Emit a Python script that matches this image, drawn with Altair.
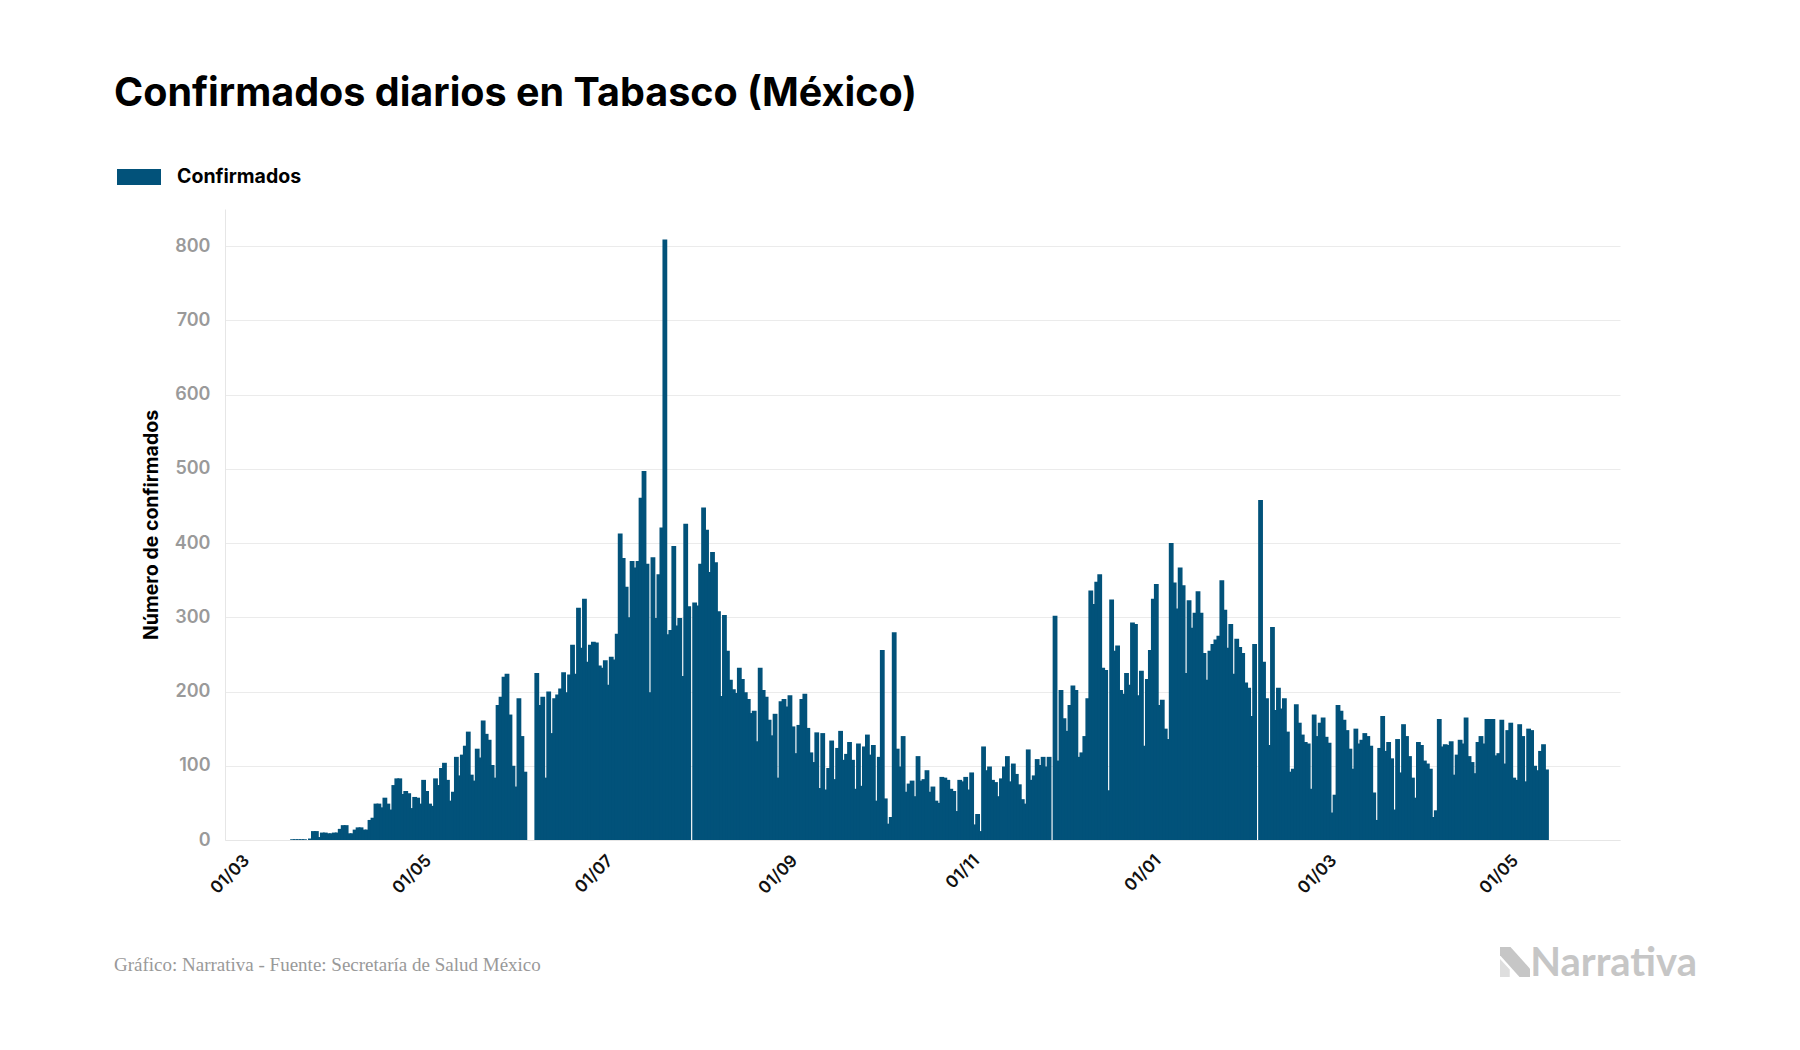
import altair as alt
import pandas as pd

# ---- data (daily confirmed cases) ----
START_DATE = "2020-03-13"
marzo_abril = [1, 1, 1, 1, 1, 0, 2, 12, 12, 4, 10, 10, 9, 9, 10, 10, 15, 20, 20, 9, 9, 14, 17, 17, 14, 14,
               27, 30, 49, 49, 44, 57, 49, 41, 74, 83, 83, 62, 66, 63, 43, 58, 57, 49, 81, 66, 49, 46, 83, 74, 97]
mayo_junio = [104, 81, 53, 65, 112, 87, 115, 127, 146, 88, 80, 123, 111, 161, 143, 135, 101, 84, 182, 193,
              220, 224, 169, 100, 72, 191, 140, 92, 0, 0, 0, 225, 182, 193, 84, 200, 144, 191, 196, 204]
junio_julio = [226, 199, 223, 263, 224, 313, 259, 325, 240, 263, 267, 266, 235, 232, 242, 209, 247, 243, 278,
               413, 380, 341, 300, 376, 367, 376, 461, 497, 372, 199]
julio_agosto = [381, 299, 358, 421, 809, 277, 283, 396, 289, 299, 221, 426, 315, 0, 320, 316, 372, 448, 418,
                361, 388, 374, 308, 194, 303, 255, 216, 203, 198, 232]
agosto_sept = [217, 199, 190, 171, 174, 133, 232, 202, 193, 162, 141, 170, 84, 187, 190, 180, 195, 153, 117,
               155, 190, 197, 151, 118, 105, 145, 70, 144, 68, 97, 134, 82, 124, 147, 108, 116, 132]
sept_oct = [108, 69, 130, 73, 126, 142, 115, 128, 53, 112, 256, 56, 22, 31, 280, 123, 99, 140, 65, 76, 80, 59,
            113, 80, 82, 94, 65, 72, 53, 50, 85, 84, 81, 69, 66, 39, 81]
oct_nov = [79, 85, 68, 91, 21, 35, 12, 126, 94, 99, 81, 78, 59, 83, 99, 113, 79, 103, 89, 75, 55, 49, 122, 81,
           87, 109, 101, 112, 99, 112, 0, 302, 107, 202, 164, 147, 182]
dic = [208, 202, 112, 118, 140, 191, 336, 318, 348, 358, 232, 229, 67, 324, 255, 262, 202, 197, 225, 209, 293,
       291, 195, 228, 127, 217, 256, 325, 345, 182, 189, 150, 136]
enero = [400, 347, 312, 367, 343, 225, 323, 286, 306, 335, 306, 252, 216, 255, 264, 270, 275, 350, 310, 259,
         291, 224, 271, 260, 252, 212, 205, 167, 264, 0, 458, 240, 191]
febrero_marzo = [128, 287, 175, 205, 177, 191, 146, 92, 96, 183, 158, 142, 132, 130, 69, 169, 140, 158, 165,
                 139, 131, 37, 61, 182, 174, 162, 148, 123, 96, 150, 130, 135, 144, 140, 127, 64, 27]
marzo_mayo = [124, 167, 120, 132, 110, 41, 136, 91, 156, 140, 113, 84, 57, 132, 128, 107, 103, 96, 31, 40, 163,
              126, 129, 128, 133, 88, 115, 135, 130, 165, 113, 105, 90, 132, 140, 130, 163, 163, 163, 114, 117,
              162, 103, 148, 158, 84, 81, 156, 140, 79, 150, 148, 100, 94, 120, 129, 95]

confirmados = (marzo_abril + mayo_junio + junio_julio + julio_agosto + agosto_sept + sept_oct + oct_nov
               + dic + enero + febrero_marzo + marzo_mayo)
fechas = pd.date_range(START_DATE, periods=len(confirmados), freq="D").strftime("%Y-%m-%d")

y_ticks = [0, 100, 200, 300, 400, 500, 600, 700, 800]
x_ticks = [(2020, 3), (2020, 5), (2020, 7), (2020, 9), (2020, 11), (2021, 1), (2021, 3), (2021, 5)]

df = pd.DataFrame({"fecha": list(fechas), "confirmados": confirmados, "serie": "Confirmados"})

BLUE = "#02527a"
FONT = "Inter"
W, H = 1395, 631

bars = alt.Chart(df).mark_bar(width=4.8, color=BLUE).encode(
    x=alt.X(
        "fecha:T",
        scale=alt.Scale(type="utc",
                        domain=[alt.DateTime(year=2020, month=2, date=21, utc=True),
                                alt.DateTime(year=2021, month=5, date=31, utc=True)]),
        axis=alt.Axis(
            values=[alt.DateTime(year=yy, month=mm, date=1, utc=True) for yy, mm in x_ticks],
            format="%d/%m", labelAngle=-45, labelFont=FONT, labelFontSize=17, labelFontWeight=600,
            labelColor="#111", labelPadding=12, labelOffset=-16, ticks=False, domain=True,
            domainColor="#e6e6e6", grid=False, title=None,
        ),
    ),
    y=alt.Y(
        "confirmados:Q",
        scale=alt.Scale(domain=[0, 850], nice=False),
        axis=alt.Axis(
            values=y_ticks, title="Número de confirmados", titleFont=FONT, titleFontSize=19.5,
            titleFontWeight="bold", titleColor="#000", titlePadding=13,
            labelFont=FONT, labelFontSize=18, labelFontWeight=600, labelColor="#9a9a9a",
            labelPadding=15, ticks=False, domain=True, domainColor="#e6e6e6",
            grid=True, gridColor="#ebebeb", gridWidth=1,
        ),
    ),
    color=alt.Color(
        "serie:N",
        scale=alt.Scale(range=[BLUE]),
        legend=alt.Legend(
            orient="none", legendX=-108, legendY=-54, title=None,
            symbolType="M-1,-0.36L1,-0.36L1,0.36L-1,0.36Z", symbolSize=1936, symbolStrokeWidth=0,
            symbolOpacity=1, labelFont=FONT, labelFontSize=19.5, labelFontWeight="bold",
            labelColor="#000", labelOffset=16, padding=0,
        ),
    ),
)

footer = alt.Chart(pd.DataFrame({"t": ["Gráfico: Narrativa - Fuente: Secretaría de Salud México"]})).mark_text(
    align="left", baseline="alphabetic", font="Liberation Serif", fontSize=19, color="#999999"
).encode(text="t:N", x=alt.value(-111), y=alt.value(762))

logo = alt.Chart(pd.DataFrame({"t": ["Narrativa"]})).mark_text(
    align="right", baseline="alphabetic", font="Lato", fontSize=40, fontWeight="bold", color="#c6c6c6"
).encode(text="t:N", x=alt.value(1472), y=alt.value(767))

logo_band = alt.Chart(pd.DataFrame({"t": ["icono"]})).mark_point(
    shape="M-1,-1L-0.3,-1L1,0.45L1,1L0.3,1L-1,-0.45Z", size=900, filled=True, opacity=1,
    color="#c6c6c6", strokeWidth=0
).encode(x=alt.value(1290), y=alt.value(753))

logo_tri = alt.Chart(pd.DataFrame({"t": ["icono"]})).mark_point(
    shape="M-1,-0.2L-0.35,0.5L-0.35,1L-1,1Z", size=900, filled=True, opacity=1,
    color="#dedede", strokeWidth=0
).encode(x=alt.value(1290), y=alt.value(753))

chart = alt.layer(bars, footer, logo, logo_tri, logo_band).properties(
    width=W, height=H,
    title=alt.TitleParams(
        "Confirmados diarios en Tabasco (México)", anchor="start", frame="group", dx=-111,
        font=FONT, fontSize=39.5, fontWeight="bold", color="#000", offset=10, baseline="alphabetic",
    ),
    autosize=alt.AutoSizeParams(type="none"),
    padding={"left": 225, "top": 209, "right": 180, "bottom": 210},
).configure(background="white").configure_view(stroke=None)

chart.save("out.html", embed_options={"renderer": "svg", "actions": False})
